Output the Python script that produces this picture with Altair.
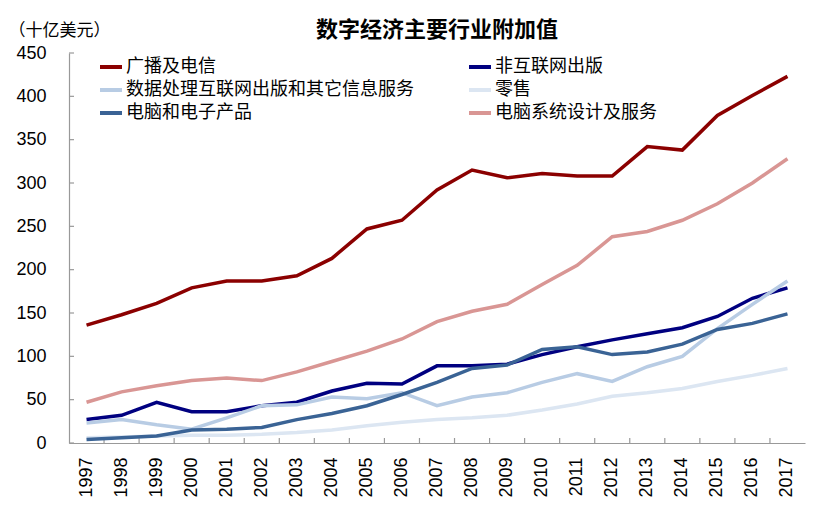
import altair as alt
import pandas as pd

years = [str(y) for y in range(1997, 2018)]

series_names = [
    "广播及电信",
    "非互联网出版",
    "数据处理互联网出版和其它信息服务",
    "零售",
    "电脑和电子产品",
    "电脑系统设计及服务",
]
series_colors = ["#8B0000", "#000080", "#B8CCE4", "#DCE6F2", "#3A6395", "#D99694"]
# legend fills column by column
legend_order = [
    "广播及电信",
    "数据处理互联网出版和其它信息服务",
    "电脑和电子产品",
    "非互联网出版",
    "零售",
    "电脑系统设计及服务",
]

broadcast = [136, 148, 161, 179, 187, 187, 193, 213, 247, 257, 292, 315, 306, 311, 308, 308, 342, 338, 378, 401, 423]
non_internet_pub = [27, 32, 47, 36, 36, 43, 47, 60, 69, 68, 89, 89, 91, 102, 111, 119, 126, 133, 146, 167, 179]
data_processing = [23, 27, 21, 16, 29, 43, 44, 53, 51, 58, 43, 53, 58, 70, 80, 71, 88, 100, 132, 160, 187]
retail = [6, 7, 8, 9, 9, 10, 12, 15, 20, 24, 27, 29, 32, 38, 45, 54, 58, 63, 71, 78, 86]
computer_electronics = [4, 6, 8, 15, 16, 18, 27, 34, 43, 56, 70, 86, 90, 108, 111, 102, 105, 114, 131, 138, 149]
computer_design = [47, 59, 66, 72, 75, 72, 82, 94, 106, 120, 140, 152, 160, 183, 205, 238, 244, 257, 276, 300, 328]

y_ticks = [0, 50, 100, 150, 200, 250, 300, 350, 400, 450]

all_series = [broadcast, non_internet_pub, data_processing, retail, computer_electronics, computer_design]
rows = []
for name, vals in zip(series_names, all_series):
    for yr, v in zip(years, vals):
        rows.append({"year": yr, "series": name, "value": v})
df = pd.DataFrame(rows)

num_font = "Liberation Sans"
cjk_font = "Noto Sans CJK SC"

legend_colors = [series_colors[series_names.index(n)] for n in legend_order]

x_scale = alt.Scale(type="band", domain=years, paddingInner=0, paddingOuter=0)
y_scale = alt.Scale(domain=[0, 450], nice=False, zero=True)

lines = alt.Chart(df).mark_line(strokeWidth=3.5).encode(
    x=alt.X("year:O", scale=x_scale, bandPosition=0.5,
            axis=alt.Axis(title=None, labelAngle=270, labelFont=num_font, labelFontSize=18,
                          labelColor="#000000", ticks=False, labelPadding=14,
                          domainColor="#999999", domainWidth=1.2)),
    y=alt.Y("value:Q", scale=y_scale,
            axis=alt.Axis(values=y_ticks, title="（十亿美元）", titleAngle=0, titleAlign="left",
                          titleBaseline="middle", titleX=-61, titleY=-23, titleFont=cjk_font,
                          titleFontSize=17, titleFontWeight="normal", titleColor="#000000",
                          labelFont=num_font, labelFontSize=18, labelColor="#000000",
                          ticks=False, labelPadding=23, grid=False,
                          domainColor="#999999", domainWidth=1.2)),
    color=alt.Color("series:N", sort=legend_order,
                    scale=alt.Scale(domain=legend_order, range=legend_colors),
                    legend=alt.Legend(title=None, orient="none", legendX=29, legendY=1,
                                      columns=2, columnPadding=47, rowPadding=1,
                                      symbolType="stroke", symbolSize=484, symbolStrokeWidth=4,
                                      labelFont=cjk_font, labelFontSize=18, labelColor="#000000",
                                      labelLimit=400, labelOffset=2)),
    order=alt.Order("series_order:Q"),
).transform_calculate(
    series_order="indexof(" + str(series_names) + ", datum.series)"
)

ytick_df = pd.DataFrame({"v": y_ticks})
yticks = alt.Chart(ytick_df).mark_rule(color="#999999", strokeWidth=1.2).encode(
    y=alt.Y("v:Q", scale=y_scale),
    x=alt.value(0),
    x2=alt.value(5),
)

xtick_df = pd.DataFrame({"year": years[1:]})
xticks = alt.Chart(xtick_df).mark_rule(color="#999999", strokeWidth=1.2).encode(
    x=alt.X("year:O", scale=x_scale, bandPosition=0),
    y=alt.value(390),
    y2=alt.value(385),
)

chart = alt.layer(yticks, xticks, lines).properties(
    width=736,
    height=390,
    title=alt.TitleParams("数字经济主要行业附加值", font=cjk_font, fontSize=22, fontWeight="bold",
                          color="#000000", anchor="middle", frame="group", dy=25),
    autosize=alt.AutoSizeParams(type="none"),
    padding={"left": 61, "top": 45, "right": 10, "bottom": 62},
).configure_view(stroke=None)

chart.save("out.html", embed_options={"renderer": "svg", "actions": False})
